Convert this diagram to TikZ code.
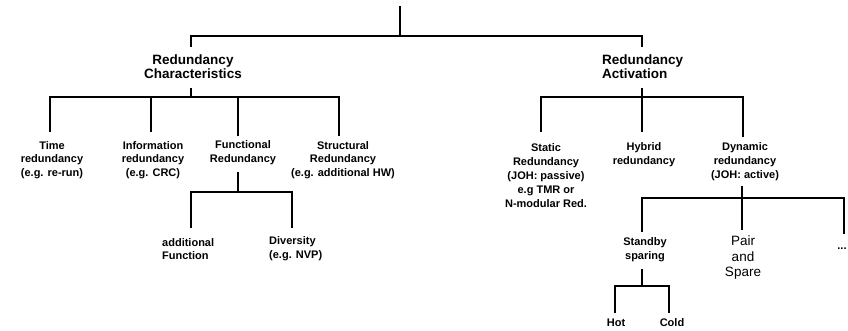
\documentclass[tikz,border=0pt]{standalone}
\usepackage{fontspec}
\setmainfont{Liberation Sans}
\begin{document}
\begin{tikzpicture}[x=1pt,y=-1pt,
  lbl/.style={font=\bfseries\fontsize{11}{13.8}\selectfont, align=center, inner sep=0pt},
  head/.style={font=\bfseries\fontsize{13.5}{14.2}\selectfont, inner sep=0pt},
  plain/.style={font=\fontsize{13.5}{15.5}\selectfont, align=center, inner sep=0pt},
  tree/.style={line width=1.3pt, line cap=rect}]
\useasboundingbox[fill=white] (0,0) rectangle (848,330);

% top level
\coordinate (rootin) at (400,7);
\coordinate (rootj) at (400,36);
\node[head, align=center] (rc) at (193,67) {Redundancy\\Characteristics};
\node[head, align=left, anchor=west] (ra) at (602,67) {Redundancy\\Activation};
\coordinate (rcin) at (191,46);
\coordinate (rain) at (642,46);
\draw[tree] (rootin) -- (rootj);
\draw[tree] (rcin |- rootj) -- (rain |- rootj);
\draw[tree] (rcin) -- (rcin |- rootj);
\draw[tree] (rain) -- (rain |- rootj);

% redundancy characteristics
\node[lbl] (time) at (52,160) {Time\\redundancy\\(e.g. re-run)};
\node[lbl] (info) at (153,160) {Information\\redundancy\\(e.g. CRC)};
\node[lbl] (func) at (243,153) {Functional\\Redundancy};
\node[lbl] (struct) at (343,160) {Structural\\Redundancy\\(e.g. additional HW)};
\coordinate (rcout) at (191,89);
\coordinate (rcj) at (191,97);
\coordinate (timein) at (50,131);
\coordinate (infoin) at (151,131);
\coordinate (funcin) at (238,135);
\coordinate (structin) at (339,135);
\draw[tree] (rcout) -- (rcj);
\draw[tree] (timein |- rcj) -- (structin |- rcj);
\foreach \c in {timein,infoin,funcin,structin}
  \draw[tree] (\c) -- (\c |- rcj);

% functional redundancy
\node[lbl, align=left, anchor=west] (addf) at (162,249) {additional\\Function};
\node[lbl, align=left, anchor=west] (div) at (269,249) {Diversity\\(e.g. NVP)};
\coordinate (funcout) at (238,173);
\coordinate (funcj) at (238,192);
\coordinate (addfin) at (191,227);
\coordinate (divin) at (292,227);
\draw[tree] (funcout) -- (funcj);
\draw[tree] (addfin |- funcj) -- (divin |- funcj);
\draw[tree] (addfin) -- (addfin |- funcj);
\draw[tree] (divin) -- (divin |- funcj);

% redundancy activation
\node[lbl] (static) at (546,175.5) {Static\\Redundancy\\(JOH: passive)\\e.g TMR or\\N-modular Red.};
\node[lbl] (hybrid) at (644,154.5) {Hybrid\\redundancy};
\node[lbl] (dyn) at (745,161.5) {Dynamic\\redundancy\\(JOH: active)};
\coordinate (raout) at (642,89);
\coordinate (raj) at (642,97);
\coordinate (staticin) at (541,131);
\coordinate (hybridin) at (642,131);
\coordinate (dynin) at (743,136);
\draw[tree] (raout) -- (raj);
\draw[tree] (staticin |- raj) -- (dynin |- raj);
\foreach \c in {staticin,hybridin,dynin}
  \draw[tree] (\c) -- (\c |- raj);

% dynamic redundancy
\node[lbl] (standby) at (645,249.5) {Standby\\sparing};
\node[plain] (pair) at (743,258) {Pair\\and\\Spare};
\node[lbl] (more) at (842,249) {...};
\coordinate (dynout) at (742,187);
\coordinate (dynj) at (742,198);
\coordinate (standbyin) at (642,231);
\coordinate (pairin) at (742,229);
\coordinate (morein) at (844,233);
\draw[tree] (dynout) -- (dynj);
\draw[tree] (standbyin |- dynj) -- (morein |- dynj);
\foreach \c in {standbyin,pairin,morein}
  \draw[tree] (\c) -- (\c |- dynj);

% standby sparing
\node[lbl] (hot) at (616,323) {Hot};
\node[lbl] (cold) at (672,323) {Cold};
\coordinate (standbyout) at (642,270);
\coordinate (standbyj) at (642,286);
\coordinate (hotin) at (615,312);
\coordinate (coldin) at (669,312);
\draw[tree] (standbyout) -- (standbyj);
\draw[tree] (hotin |- standbyj) -- (coldin |- standbyj);
\draw[tree] (hotin) -- (hotin |- standbyj);
\draw[tree] (coldin) -- (coldin |- standbyj);
\end{tikzpicture}
\end{document}
